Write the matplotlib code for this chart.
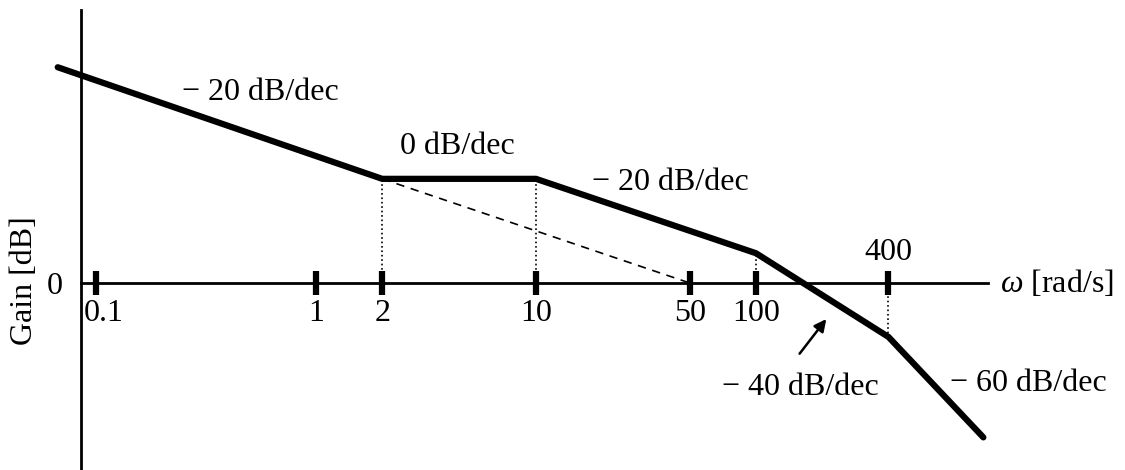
import matplotlib.pyplot as plt
import matplotlib.transforms as mtransforms

plt.rcParams['font.family'] = ['Liberation Serif', 'DejaVu Serif']
plt.rcParams['mathtext.fontset'] = 'custom'
plt.rcParams['mathtext.it'] = 'Liberation Serif:italic'
plt.rcParams['mathtext.rm'] = 'Liberation Serif'

# asymptote vertices
omega = [0.067, 2, 10, 100, 400, 1080]
gain_db = [58, 28, 28, 8, -14.5, -41.5]

# dashed continuation of the first slope
dash_omega = [2, 50]
dash_gain = [28, 0]

tick_vals = [0.1, 1, 2, 10, 50, 100, 400]
tick_labels = ['0.1', '1', '2', '10', '50', '100', '']

fs = 23

fig = plt.figure(figsize=(11.25, 4.7), dpi=100)
ax = fig.add_axes([0, 0, 1, 1])
ax.set_xscale('log')
ax.set_xlim(10 ** (-316 / 220), 10 ** ((1125 - 316) / 220))
ax.set_ylim(-(470 - 283) / 3.72, 283 / 3.72)

# axes drawn through spines
for s in ['top', 'right']:
    ax.spines[s].set_visible(False)
ax.spines['left'].set_position(('data', 0.0855))
ax.spines['left'].set_bounds(-60, 73.4)
ax.spines['bottom'].set_position(('data', 0))
ax.spines['bottom'].set_bounds(0.0855, 1134)
ax.spines['left'].set_linewidth(2)
ax.spines['bottom'].set_linewidth(2)

ax.set_xticks(tick_vals)
ax.set_xticklabels(tick_labels, fontsize=fs)
ax.xaxis.set_minor_locator(plt.NullLocator())
ax.tick_params(axis='x', direction='inout', length=17, width=4.5, pad=3)
lbl0 = ax.get_xticklabels()[0]
lbl0.set_ha('left')
lbl0.set_transform(lbl0.get_transform() + mtransforms.ScaledTranslation(-0.12, 0, fig.dpi_scale_trans))

ax.set_yticks([0])
ax.set_yticklabels(['0'], fontsize=fs)
ax.tick_params(axis='y', length=0, pad=13)

# curve
ax.plot(omega, gain_db, color='black', lw=4.5, solid_capstyle='round', solid_joinstyle='round', zorder=5)
ax.plot(dash_omega, dash_gain, color='black', lw=1.2, ls=(0, (5, 4)))

# dotted guides at break points
for w, g in zip(omega[1:5], gain_db[1:5]):
    ax.plot([w, w], [0, g], color='black', lw=1.2, ls=':')

ax.text(0.556, 51.1, '− 20 dB/dec', fontsize=fs, ha='center', va='center')
ax.text(4.37, 36.6, '0 dB/dec', fontsize=fs, ha='center', va='center')
ax.text(40.6, 26.9, '− 20 dB/dec', fontsize=fs, ha='center', va='center')
ax.text(158.5, -28.0, '− 40 dB/dec', fontsize=fs, ha='center', va='center')
ax.text(1722, -26.9, '− 60 dB/dec', fontsize=fs, ha='center', va='center')
ax.text(400, 8.1, '400', fontsize=fs, ha='center', va='center')
ax.text(1285, 0, r'$\omega$ [rad/s]', fontsize=fs, ha='left', va='center')
ax.annotate('', xy=(212.5, -9.1), xytext=(155, -19.6),
            arrowprops=dict(arrowstyle='-|>', color='black', lw=1.8, mutation_scale=18))

ax.text(0.022, 0.402, 'Gain [dB]', fontsize=fs, rotation=90, ha='center', va='center',
        transform=ax.transAxes)

fig.savefig('out.png', dpi=100)
